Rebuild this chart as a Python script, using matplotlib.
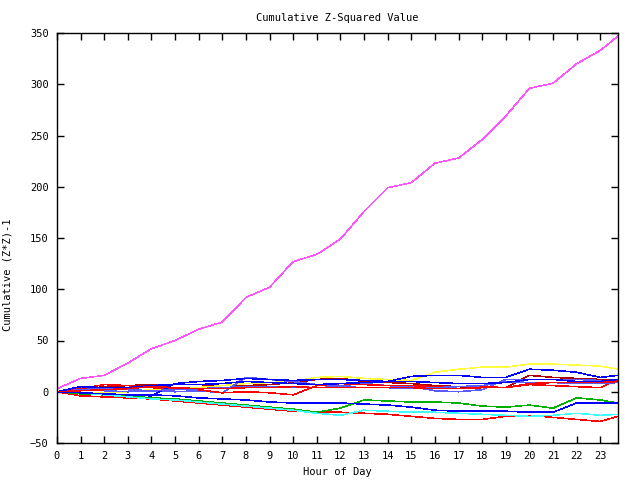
import matplotlib
matplotlib.use("Agg")
import matplotlib.pyplot as plt

hours = [0, 1, 2, 3, 4, 5, 6, 7, 8, 9, 10, 11, 12, 13, 14, 15, 16, 17, 18, 19, 20, 21, 22, 23, 23.75]

magenta = [3, 13, 16, 28, 42, 50, 61, 68, 92, 102, 127, 134, 149, 176, 199, 204, 223, 228, 246, 269, 296, 301, 320, 333, 347]
yellow = [0, -1, -1, 0, 2, 3, 4, 6, 8, 9, 10, 14, 15, 13, 12, 11, 19, 22, 24, 24, 27, 27, 26, 25, 22]
darkred = [0, 2, 5, 6, 7, 7, 7, 6, 6, 7, 9, 12, 13, 10, 9, 8, 6, 5, 4, 4, 16, 14, 13, 12, 11]
red_up1 = [0, 3, 7, 6, 4, 3, 2, -1, 0, -1, -3, 6, 8, 7, 6, 6, 5, 5, 5, 4, 7, 6, 5, 4, 12]
red_up2 = [0, 1, 2, 3, 5, 4, 3, 3, 4, 4, 5, 4, 4, 4, 4, 4, 3, 3, 4, 4, 8, 9, 9, 9, 10]
blue_top = [0, -1, -2, -3, -4, 8, 10, 11, 13, 12, 11, 12, 12, 11, 10, 15, 16, 16, 14, 14, 22, 21, 19, 14, 16]
blue_mid = [0, 5, 4, 4, 6, 7, 7, 8, 10, 9, 8, 7, 8, 9, 10, 10, 9, 8, 8, 9, 12, 12, 10, 10, 12]
light1 = [0, 4, 3, 2, 1, 0, 1, -1, 14, 12, 10, 7, 6, 8, 6, 5, 1, 0, 2, 12, 12, 12, 12, 11, 9]
light2 = [0, 2, 1, 0, 1, 2, 3, 4, 5, 5, 4, 4, 5, 4, 4, 3, 4, 5, 6, 10, 9, 9, 8, 8, 9]
green = [0, -2, -3, -4, -6, -7, -9, -11, -13, -15, -17, -20, -16, -8, -9, -10, -10, -11, -14, -15, -13, -16, -6, -8, -11]
cyan = [0, -1, -3, -5, -7, -8, -10, -12, -14, -16, -18, -21, -23, -18, -19, -20, -20, -21, -22, -23, -24, -23, -21, -23, -22]
blue_low = [0, -1, -2, -3, -3, -4, -6, -7, -8, -10, -11, -11, -11, -12, -13, -15, -18, -19, -19, -19, -20, -20, -11, -11, -11]
red_low = [0, -4, -5, -6, -7, -9, -11, -13, -15, -17, -19, -20, -20, -21, -22, -24, -26, -27, -27, -24, -23, -25, -27, -29, -24]

series = [
    (red_low, "#ff0000"),
    (green, "#00b000"),
    (blue_low, "#0000ff"),
    (magenta, "#ff55ff"),
    (cyan, "#40ffff"),
    (darkred, "#b00000"),
    (yellow, "#ffff40"),
    (light1, "#5a5aff"),
    (red_up1, "#ff0000"),
    (blue_top, "#0000ff"),
    (light2, "#5a5aff"),
    (blue_mid, "#0000ff"),
    (red_up2, "#ff0000"),
]

x_ticks = list(range(0, 24))
y_ticks = list(range(-50, 351, 50))

plt.rcParams["font.family"] = ["DejaVu Sans Mono"]
fig = plt.figure(figsize=(6.4, 4.8), dpi=100)
ax = fig.add_axes([57/640, 37/480, 561/640, 410/480])

for vals, col in series:
    ax.plot(hours, vals, color=col, linewidth=0.4, antialiased=False)

ax.set_xlim(0, 23.75)
ax.set_ylim(-50, 350)
ax.set_xticks(x_ticks)
ax.set_yticks(y_ticks)
ax.tick_params(direction="in", length=5, width=1, top=True, right=True, labelsize=7.5, pad=6)
for s in ax.spines.values():
    s.set_linewidth(1)
ax.set_title("Cumulative Z-Squared Value", fontsize=7.5, pad=9)
ax.set_xlabel("Hour of Day", fontsize=7.5, labelpad=4)
ax.set_ylabel("Cumulative (Z*Z)-1", fontsize=7.5)
ax.yaxis.set_label_coords(-0.080, 0.41)

fig.savefig("out.png", dpi=100)
